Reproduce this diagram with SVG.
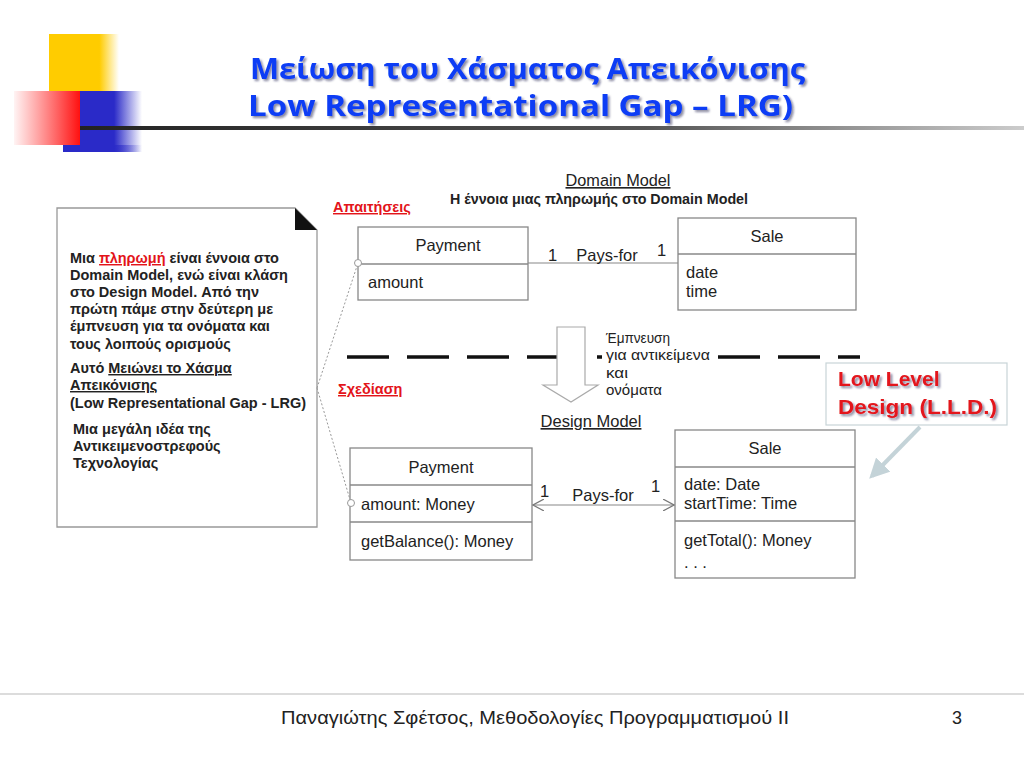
<svg xmlns="http://www.w3.org/2000/svg" width="1024" height="768" viewBox="0 0 1024 768">
<defs>
<style>
.t{font-family:"Liberation Sans",Arial,sans-serif;fill:#222}
.nb{font-family:"Liberation Sans",Arial,sans-serif;font-weight:bold;font-size:14.5px;fill:#222}
.uml{font-family:"Liberation Sans",Arial,sans-serif;font-size:16.5px;fill:#222}
.box{fill:#fff;stroke:#888;stroke-width:1.3}
.div{stroke:#888;stroke-width:1.3}
.red{fill:#e3141a;font-family:"Liberation Sans",Arial,sans-serif;font-weight:bold;font-size:14.5px;text-decoration:underline}
.title{font-family:"Open Sans","DejaVu Sans",sans-serif;font-weight:bold;font-size:28px;fill:#0a3cf5}
.lld{font-family:"Liberation Sans",Arial,sans-serif;font-weight:bold;font-size:21px;fill:#e3141a}
</style>
<filter id="sh" x="-5%" y="-20%" width="110%" height="150%">
<feDropShadow dx="2" dy="2" stdDeviation="1" flood-color="#0a0a40" flood-opacity="0.5"/>
</filter>
<linearGradient id="gy" x1="0" x2="1" y1="0" y2="0"><stop offset="0" stop-color="#ffcc00"/><stop offset="0.72" stop-color="#ffcc00"/><stop offset="1" stop-color="#ffcc00" stop-opacity="0"/></linearGradient>
<linearGradient id="gr" x1="0" x2="1" y1="0" y2="0"><stop offset="0" stop-color="#ff2020" stop-opacity="0.05"/><stop offset="1" stop-color="#ff1010"/></linearGradient>
<linearGradient id="gb" x1="0" x2="1" y1="0" y2="0"><stop offset="0" stop-color="#2a2ac8"/><stop offset="0.55" stop-color="#2a2ac8"/><stop offset="1" stop-color="#2a2ac8" stop-opacity="0"/></linearGradient>
<linearGradient id="gl" x1="0" x2="1" y1="0" y2="0"><stop offset="0" stop-color="#222"/><stop offset="0.6" stop-color="#555"/><stop offset="1" stop-color="#ccc"/></linearGradient>
<marker id="open" viewBox="0 0 12 12" refX="11" refY="6" markerWidth="12" markerHeight="12" markerUnits="userSpaceOnUse" orient="auto-start-reverse">
<path d="M0,0 L11,6 L0,12" fill="none" stroke="#777" stroke-width="1.2"/>
</marker>
<marker id="lld" viewBox="0 0 10 10" refX="8" refY="5" markerWidth="5" markerHeight="5" orient="auto">
<path d="M0,0 L10,5 L0,10 z" fill="#c4d3d8"/>
</marker>
</defs>
<rect width="1024" height="768" fill="#fff"/>

<g id="decoration">
<rect x="49" y="34" width="70" height="57" fill="url(#gy)"/>
<rect x="80" y="91" width="62" height="61" fill="url(#gb)"/>
<rect x="63" y="145" width="79" height="7" fill="url(#gb)"/>
<rect x="14" y="91" width="66" height="54" fill="url(#gr)"/>
<rect x="80" y="126" width="944" height="4" fill="url(#gl)"/>
</g>

<g id="title" filter="url(#sh)">
<text class="title" x="250" y="79" textLength="555" lengthAdjust="spacingAndGlyphs">Μείωση του Χάσματος Απεικόνισης</text>
<text class="title" x="248" y="116" textLength="545" lengthAdjust="spacingAndGlyphs">Low Representational Gap – LRG)</text>
</g>

<g id="note">
<path d="M57,208 H295 L317,230 V527 H57 Z" fill="#fff" stroke="#999" stroke-width="1.3"/>
<path d="M295,208 L317,230 H295 Z" fill="#111"/>
<text class="nb" x="70" y="263"><tspan>Μια </tspan><tspan fill="#e3141a" text-decoration="underline">πληρωμή</tspan><tspan> είναι έννοια στο</tspan></text>
<text class="nb" x="70" y="280">Domain Model, ενώ είναι κλάση</text>
<text class="nb" x="70" y="297">στο Design Model. Από την</text>
<text class="nb" x="70" y="314">πρώτη πάμε στην δεύτερη με</text>
<text class="nb" x="70" y="331">έμπνευση για τα ονόματα και</text>
<text class="nb" x="70" y="349">τους λοιπούς ορισμούς</text>
<text class="nb" x="70" y="373">Αυτό <tspan text-decoration="underline">Μειώνει το Χάσμα</tspan></text>
<text class="nb" x="70" y="390" text-decoration="underline">Απεικόνισης</text>
<text class="nb" x="70" y="408">(Low Representational Gap - LRG)</text>
<text class="nb" x="73" y="434">Μια μεγάλη ιδέα της</text>
<text class="nb" x="73" y="451">Αντικειμενοστρεφούς</text>
<text class="nb" x="73" y="468">Τεχνολογίας</text>
</g>

<g id="labels">
<text class="t" x="618" y="186" font-size="16.3" text-anchor="middle" text-decoration="underline">Domain Model</text>
<text class="t" x="599" y="204" font-size="14.3" font-weight="bold" text-anchor="middle">Η έννοια μιας πληρωμής στο Domain Model</text>
<text class="red" x="333" y="212">Απαιτήσεις</text>
<text class="red" x="338" y="394">Σχεδίαση</text>
<text class="t" x="591" y="427" font-size="16.5" text-anchor="middle" text-decoration="underline">Design Model</text>
<text class="t" font-size="15" x="606" y="343" textLength="64" lengthAdjust="spacingAndGlyphs">Έμπνευση</text>
<text class="t" font-size="15" x="606" y="360" textLength="104" lengthAdjust="spacingAndGlyphs">για αντικείμενα</text>
<text class="t" font-size="15" x="606" y="378" textLength="22" lengthAdjust="spacingAndGlyphs">και</text>
<text class="t" font-size="15" x="606" y="395" textLength="56" lengthAdjust="spacingAndGlyphs">ονόματα</text>
</g>

<g id="dm-payment">
<rect class="box" x="358" y="227" width="170" height="73"/>
<line class="div" x1="358" y1="264" x2="528" y2="264"/>
<text class="uml" x="448" y="251" text-anchor="middle">Payment</text>
<text class="uml" x="368" y="288">amount</text>
</g>

<g id="dm-sale">
<rect class="box" x="678" y="218" width="178" height="92"/>
<line class="div" x1="678" y1="254" x2="856" y2="254"/>
<text class="uml" x="767" y="242" text-anchor="middle">Sale</text>
<text class="uml" x="686" y="278">date</text>
<text class="uml" x="686" y="297">time</text>
</g>

<g id="ds-payment">
<rect class="box" x="350" y="448" width="182" height="112"/>
<line class="div" x1="350" y1="485" x2="532" y2="485"/>
<line class="div" x1="350" y1="522" x2="532" y2="522"/>
<text class="uml" x="441" y="473" text-anchor="middle">Payment</text>
<text class="uml" x="361" y="510">amount: Money</text>
<text class="uml" x="361" y="547">getBalance(): Money</text>
</g>

<g id="ds-sale">
<rect class="box" x="675" y="430" width="180" height="148"/>
<line class="div" x1="675" y1="467" x2="855" y2="467"/>
<line class="div" x1="675" y1="521" x2="855" y2="521"/>
<text class="uml" x="765" y="454" text-anchor="middle">Sale</text>
<text class="uml" x="684" y="490">date: Date</text>
<text class="uml" x="684" y="509">startTime: Time</text>
<text class="uml" x="684" y="546">getTotal(): Money</text>
<text class="uml" x="684" y="568">. . .</text>
</g>

<g id="lld-note">
<rect x="826" y="363" width="181" height="62" fill="#fff" stroke="#c8d4d8" stroke-width="1.2"/>
<g filter="url(#sh)">
<text class="lld" x="838" y="386">Low Level</text>
<text class="lld" x="838" y="414" textLength="159" lengthAdjust="spacingAndGlyphs">Design (L.L.D.)</text>
</g>
</g>

<g id="connectors">
<line x1="528" y1="263" x2="678" y2="263" stroke="#888" stroke-width="1.2"/>
<text class="uml" x="548" y="261">1</text>
<text class="uml" x="607" y="261" text-anchor="middle">Pays-for</text>
<text class="uml" x="657" y="256">1</text>
<line x1="533" y1="505" x2="674" y2="505" stroke="#888" stroke-width="1.2" marker-start="url(#open)" marker-end="url(#open)"/>
<text class="uml" x="540" y="497">1</text>
<text class="uml" x="603" y="501" text-anchor="middle">Pays-for</text>
<text class="uml" x="651" y="492">1</text>
<path d="M317,388 L358,263 M317,388 L351,503" fill="none" stroke="#999" stroke-width="1" stroke-dasharray="2,2"/>
<circle cx="358" cy="263" r="3.5" fill="#fff" stroke="#999"/>
<circle cx="351" cy="503" r="3.5" fill="#fff" stroke="#999"/>
<path d="M347,357 H560 M597,357 H602 M718,357 H860" stroke="#111" stroke-width="3.5" stroke-dasharray="42,18"/>
<path d="M557,327 H585 V385 H598 L571,402 L543,385 H557 Z" fill="#fff" stroke="#aaa" stroke-width="1.2"/>
<line x1="920" y1="427" x2="872" y2="476" stroke="#c4d3d8" stroke-width="4" marker-end="url(#lld)"/>
</g>

<g id="footer">
<line x1="0" y1="694" x2="1024" y2="694" stroke="#d0d0d0" stroke-width="1.5"/>
<text class="t" x="281" y="724" font-size="19" textLength="508" lengthAdjust="spacingAndGlyphs">Παναγιώτης Σφέτσος,  Μεθοδολογίες Προγραμματισμού ΙΙ</text>
<text class="t" x="952" y="724" font-size="19" textLength="10" lengthAdjust="spacingAndGlyphs">3</text>
</g>
</svg>
